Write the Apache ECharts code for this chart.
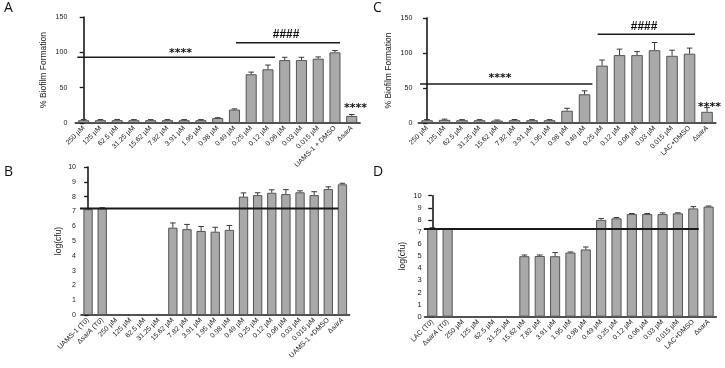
<!DOCTYPE html>
<html>
<head>
<meta charset="utf-8">
<script src="https://cdn.jsdelivr.net/npm/echarts@6/dist/echarts.min.js"></script>
<style>
  html, body { margin: 0; padding: 0; background: #fff; }
  #chart { width: 725px; height: 368px; }
</style>
</head>
<body>
<div id="chart"></div>
<script>
// ---- data ----
const concs = ['250 µM', '125 µM', '62.5 µM', '31.25 µM', '15.62 µM', '7.82 µM', '3.91 µM',
  '1.95 µM', '0.98 µM', '0.49 µM', '0.25 µM', '0.12 µM', '0.06 µM', '0.03 µM', '0.015 µM'];

const catsA = [...concs, 'UAMS-1 + DMSO', 'ΔsarA'];
const valsA = [4, 4, 4, 4, 4, 4, 4, 4, 7, 19, 69, 76, 89, 89, 91, 100, 10];
const errsA = [1, 0.8, 1, 0.8, 0.8, 0.8, 0.8, 0.8, 0.5, 1, 3, 6, 4, 4, 2.5, 2.5, 2];

const catsC = [...concs, 'LAC+DMSO', 'ΔsarA'];
const valsC = [4, 4.5, 4, 4, 3.5, 4, 4, 4, 17.5, 41, 82, 97, 97, 104, 96, 99, 16];
const errsC = [1, 1, 0.8, 0.8, 0.8, 1, 0.8, 0.8, 3.5, 5, 8, 8.5, 5, 11, 8, 8, 6];

const catsB = ['UAMS-1 (T0)', 'ΔsarA (T0)', ...concs, 'UAMS-1 +DMSO', 'ΔsarA'];
const valsB = [7.15, 7.2, null, null, null, null, 5.9, 5.8, 5.68, 5.63, 5.75, 8.0, 8.1, 8.26, 8.17, 8.29, 8.1, 8.51, 8.83];
const errsB = [0.05, 0.05, 0, 0, 0, 0, 0.32, 0.32, 0.3, 0.3, 0.3, 0.25, 0.16, 0.2, 0.3, 0.1, 0.23, 0.15, 0.07];

const catsD = ['LAC (T0)', 'ΔsarA (T0)', ...concs, 'LAC+DMSO', 'ΔsarA'];
const valsD = [7.3, 7.25, null, null, null, null, 5.0, 5.02, 5.0, 5.3, 5.56, 8.0, 8.13, 8.48, 8.48, 8.48, 8.54, 8.95, 9.1];
const errsD = [0.05, 0, 0, 0, 0, 0, 0.1, 0.08, 0.3, 0.05, 0.2, 0.12, 0.07, 0.05, 0.05, 0.1, 0.05, 0.15, 0.05];

// significance bars / reference lines, in (category index, value)
const linesA = [[[-0.38, 93], [11.42, 93]], [[9.09, 113.6], [15.3, 113.6]]];
const marksA = [[5.78, 99, '****'], [12.08, 125.5, '####'], [16.23, 20.5, '****']];
const linesC = [[[-0.4, 55.7], [9.45, 55.7]], [[9.75, 126.7], [15.31, 126.7]]];
const marksC = [[4.17, 63.8, '****'], [12.4, 137.6, '####'], [16.14, 23.2, '****']];
const linesB = [[[-0.7, 7.2], [17.7, 7.2]]];
const linesD = [[[-0.55, 7.25], [17.35, 7.25]]];

// ---- chart ----
const FONT = 'Liberation Sans, Arial, sans-serif';
const INK = '#1a1a1a';
const grids = [], xAxes = [], yAxes = [], series = [];

const rich = {
  n: { fontSize: 7, color: '#222', fontFamily: FONT },
  i: { fontSize: 7, color: '#222', fontFamily: FONT, fontStyle: 'italic' },
};
const catLabel = (v) => {
  if (!v.startsWith('Δ')) return v;
  const rest = v.slice(1);
  const t0 = rest.indexOf(' (T0)');
  if (t0 >= 0) return '{n|Δ}{i|' + rest.slice(0, t0) + '}{n| (T0)}';
  return '{n|Δ}{i|' + rest + '}';
};

const errRender = (params, api) => {
  const x = api.value(0), v = api.value(1), e = api.value(2);
  const base = api.coord([x, v]);
  const top = api.coord([x, v + e]);
  const w = 2.8;
  const st = { stroke: '#3a3a3a', lineWidth: 1 };
  return {
    type: 'group',
    children: [
      { type: 'line', shape: { x1: base[0], y1: base[1], x2: top[0], y2: top[1] }, style: st },
      { type: 'line', shape: { x1: top[0] - w, y1: top[1], x2: top[0] + w, y2: top[1] }, style: st },
    ],
  };
};

function addPanel(p) {
  const g = grids.length;
  grids.push(p.grid);
  const xi = xAxes.length;
  xAxes.push({
    gridIndex: g, type: 'category', data: p.cats, boundaryGap: true,
    axisLine: { lineStyle: { color: INK, width: 1.6 } },
    axisTick: { alignWithLabel: true, length: 4, lineStyle: { color: INK, width: 1.3 } },
    axisLabel: { rotate: 45, interval: 0, fontSize: 7, color: '#222', margin: 4, fontFamily: FONT, formatter: catLabel, rich },
  });
  const xv = xAxes.length;
  xAxes.push({ gridIndex: g, type: 'value', min: -0.5, max: p.cats.length - 0.5, show: false });
  const yi = yAxes.length;
  yAxes.push({
    gridIndex: g, type: 'value', min: 0, max: p.yMax, interval: p.yInt, offset: p.yOff,
    name: p.yName, nameLocation: 'middle', nameGap: p.nameGap,
    nameTextStyle: { fontSize: 8.5, color: '#222', fontFamily: FONT },
    axisLine: { show: true, lineStyle: { color: INK, width: 1.6 } },
    axisTick: { show: true, length: 4, lineStyle: { color: INK, width: 1.3 } },
    axisLabel: { fontSize: p.yFont, color: '#222', margin: 3, fontFamily: FONT },
    splitLine: { show: false },
  });
  series.push({
    type: 'bar', xAxisIndex: xi, yAxisIndex: yi, data: p.vals, barWidth: '66%',
    itemStyle: { color: '#a9a9a9', borderColor: '#555', borderWidth: 1 }, silent: true,
  });
  series.push({
    type: 'custom', xAxisIndex: xi, yAxisIndex: yi, z: 3, silent: true,
    data: p.vals.map((v, i) => (v == null ? null : [i, v, p.errs[i]])).filter(Boolean),
    renderItem: errRender,
  });
  p.lines.forEach((ln) => {
    series.push({
      type: 'line', xAxisIndex: xv, yAxisIndex: yi, data: ln, symbol: 'none', silent: true, z: 4,
      lineStyle: { color: INK, width: p.lineW },
    });
  });
  if (p.marks) {
    series.push({
      type: 'custom', xAxisIndex: xv, yAxisIndex: yi, z: 5, silent: true,
      data: p.marks.map((m) => [m[0], m[1]]),
      renderItem: (params, api) => {
        const pt = api.coord([api.value(0), api.value(1)]);
        const txt = p.marks[params.dataIndex][2];
        const star = txt[0] === '*';
        return {
          type: 'text', x: pt[0], y: pt[1],
          style: {
            text: txt, fill: '#111', fontSize: star ? 11 : 12, fontWeight: 'bold',
            fontFamily: star ? 'DejaVu Sans, sans-serif' : FONT,
            align: 'center', verticalAlign: 'middle',
          },
        };
      },
    });
  }
}

addPanel({ grid: { left: 75.3, top: 17, width: 284.8, height: 106 }, cats: catsA, vals: valsA, errs: errsA,
  yMax: 150, yInt: 50, yOff: 5, yFont: 7, yName: '% Biofilm Formation', nameGap: 22, lines: linesA, marks: marksA, lineW: 1.5 });
addPanel({ grid: { left: 81, top: 167, width: 268.5, height: 148 }, cats: catsB, vals: valsB, errs: errsB,
  yMax: 10, yInt: 1, yOff: 2, yFont: 7, yName: 'log(cfu)', nameGap: 16, lines: linesB, lineW: 2 });
addPanel({ grid: { left: 418.3, top: 18, width: 297.5, height: 105 }, cats: catsC, vals: valsC, errs: errsC,
  yMax: 150, yInt: 50, yOff: 3, yFont: 7, yName: '% Biofilm Formation', nameGap: 22, lines: linesC, marks: marksC, lineW: 1.5 });
addPanel({ grid: { left: 424.6, top: 195.7, width: 291.7, height: 121 }, cats: catsD, vals: valsD, errs: errsD,
  yMax: 10, yInt: 1, yOff: 0, yFont: 7.5, yName: 'log(cfu)', nameGap: 17, lines: linesD, lineW: 2 });

const panelLetter = (text, left, top) => ({
  text, left, top, padding: 0,
  textStyle: { fontSize: 14, fontWeight: 'normal', color: '#111', fontFamily: 'Open Sans, ' + FONT },
});

const chart = echarts.init(document.getElementById('chart'), null, { renderer: 'canvas' });
chart.setOption({
  animation: false,
  backgroundColor: '#fff',
  title: [panelLetter('A', 4, 1), panelLetter('B', 4, 165), panelLetter('C', 373, 1), panelLetter('D', 373, 165)],
  grid: grids,
  xAxis: xAxes,
  yAxis: yAxes,
  series,
});
</script>
</body>
</html>
